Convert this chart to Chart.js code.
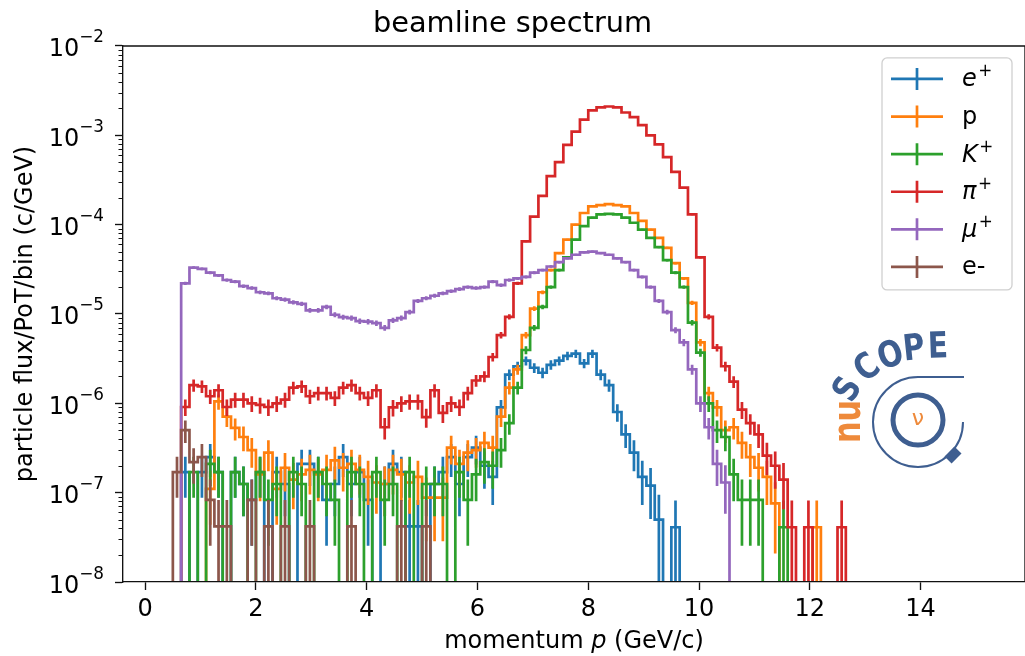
<!DOCTYPE html>
<html>
<head>
<meta charset="utf-8">
<title>beamline spectrum</title>
<script src="https://cdn.jsdelivr.net/npm/chart.js@4.4.0/dist/chart.umd.min.js"></script>
<style>
  html, body { margin: 0; padding: 0; background: #fff; overflow: hidden; }
  #wrap { position: relative; width: 1025px; height: 656px; overflow: hidden; }
  #spectrum { position: absolute; left: 0; top: 0; }
</style>
</head>
<body>
<div id="wrap"><canvas id="spectrum" width="1040" height="656"></canvas></div>
<script>
// momentum bins, 0.15 GeV wide, first edge at 0.5 GeV
const binStart = 0.5;
const binWidth = 0.15;

const seriesLabels = ['e⁺', 'p', 'K⁺', 'π⁺', 'μ⁺', 'e-'];
const seriesColors = ['#1f77b4', '#ff7f0e', '#2ca02c', '#d62728', '#9467bd', '#8c564b'];

// particle flux per bin (c/GeV), one value per bin from 0.5 GeV up, 10 bins per row
const ePlus = [
  0, 1.7e-7, 0, 1.7e-7, 2.5e-7, 1.7e-7, 0, 1.7e-7, 1.25e-7, 8.3e-8,
  1.7e-7, 0, 1.7e-7, 1.25e-7, 0, 2.1e-7, 2.1e-7, 1.7e-7, 8.3e-8, 1.25e-7,
  2.5e-7, 1.25e-7, 1.7e-7, 8.3e-8, 0, 1.25e-7, 2.1e-7, 1.7e-7, 4.2e-8, 4.2e-8,
  0, 1.25e-7, 1.7e-7, 2.5e-7, 1.25e-7, 2.5e-7, 3.2e-7, 2.0e-7, 1.5e-7, 9.0e-7,
  2.1e-6, 2.6e-6, 3.0e-6, 2.5e-6, 2.2e-6, 2.7e-6, 3.0e-6, 3.4e-6, 3.6e-6, 2.8e-6,
  3.6e-6, 2.1e-6, 1.6e-6, 8.0e-7, 4.5e-7, 2.8e-7, 1.5e-7, 1.2e-7, 5.0e-8, 0,
  4.1e-8
];
const proton = [
  0, 0, 0, 0, 1.1e-7, 1.05e-6, 7.1e-7, 5.3e-7, 4.2e-7, 3.0e-7,
  1.6e-7, 2.8e-7, 1.1e-7, 1.9e-7, 1.4e-7, 1.6e-7, 1.8e-7, 1.6e-7, 1.8e-7, 2.3e-7,
  1.9e-7, 2.1e-7, 1.8e-7, 1.5e-7, 1.3e-7, 1.25e-7, 1.8e-7, 1.6e-7, 1.3e-7, 1.5e-7,
  8.8e-8, 8.8e-8, 8.8e-8, 3.2e-7, 2.1e-7, 2.8e-7, 3.0e-7, 3.6e-7, 3.2e-7, 7.1e-7,
  1.5e-6, 2.4e-6, 5.8e-6, 1.15e-5, 1.75e-5, 3.1e-5, 4.8e-5, 6.8e-5, 1.0e-4, 1.35e-4,
  1.6e-4, 1.65e-4, 1.7e-4, 1.65e-4, 1.6e-4, 1.35e-4, 1.1e-4, 8.8e-5, 7.1e-5, 5.5e-5,
  3.7e-5, 2.5e-5, 1.33e-5, 4.8e-6, 1.3e-6, 9.0e-7, 5.0e-7, 5.4e-7, 3.6e-7, 2.5e-7,
  1.9e-7, 1.5e-7, 7.6e-8, 0, 0, 0, 0, 4.1e-8
];
const kaon = [
  0, 0, 1.7e-7, 0, 2.1e-7, 1.7e-7, 0, 1.7e-7, 1.25e-7, 0,
  1.7e-7, 8.3e-8, 1.25e-7, 0, 1.7e-7, 1.25e-7, 0, 1.7e-7, 1.25e-7, 8.3e-8,
  0, 1.7e-7, 1.25e-7, 0, 1.7e-7, 8.3e-8, 1.25e-7, 0, 1.7e-7, 0,
  1.25e-7, 1.25e-7, 1.25e-7, 0, 1.7e-7, 8.3e-8, 1.6e-7, 2.2e-7, 2.0e-7, 3.0e-7,
  6.0e-7, 1.5e-6, 3.95e-6, 7.0e-6, 1.2e-5, 2.0e-5, 3.1e-5, 4.3e-5, 6.8e-5, 9.6e-5,
  1.2e-4, 1.3e-4, 1.32e-4, 1.3e-4, 1.2e-4, 1.05e-4, 8.8e-5, 7.1e-5, 5.6e-5, 4.0e-5,
  2.9e-5, 2.0e-5, 8.0e-6, 3.7e-6, 1.0e-6, 5.0e-7, 4.2e-7, 1.6e-7, 8.3e-8, 8.3e-8,
  8.3e-8, 0, 0, 4.1e-8
];
const pion = [
  0, 9.1e-7, 1.6e-6, 1.55e-6, 1.2e-6, 1.4e-6, 9.1e-7, 1.1e-6, 1.1e-6, 1.0e-6,
  9.6e-7, 9.1e-7, 1.0e-6, 1.1e-6, 1.5e-6, 1.55e-6, 1.2e-6, 1.3e-6, 1.3e-6, 1.15e-6,
  1.5e-6, 1.6e-6, 1.3e-6, 1.15e-6, 1.4e-6, 5.4e-7, 9.0e-7, 1.0e-6, 1.05e-6, 1.05e-6,
  7.0e-7, 1.4e-6, 7.8e-7, 1.0e-6, 9.1e-7, 1.3e-6, 1.8e-6, 2.0e-6, 3.3e-6, 5.8e-6,
  9.3e-6, 2.2e-5, 6.5e-5, 1.23e-4, 2.1e-4, 3.5e-4, 5.0e-4, 7.8e-4, 1.1e-3, 1.5e-3,
  1.9e-3, 2.05e-3, 2.1e-3, 2.05e-3, 1.8e-3, 1.6e-3, 1.3e-3, 1.0e-3, 7.9e-4, 5.7e-4,
  3.9e-4, 2.6e-4, 1.3e-4, 4.3e-5, 9.3e-6, 4.2e-6, 2.6e-6, 1.75e-6, 8.5e-7, 6.0e-7,
  4.5e-7, 2.6e-7, 2.0e-7, 1.4e-7, 4.1e-8, 0, 4.1e-8, 0, 0, 0,
  4.1e-8
];
const muon = [
  0, 2.2e-5, 3.3e-5, 3.2e-5, 2.9e-5, 2.7e-5, 2.4e-5, 2.3e-5, 2.05e-5, 1.95e-5,
  1.75e-5, 1.7e-5, 1.5e-5, 1.45e-5, 1.35e-5, 1.3e-5, 1.1e-5, 1.1e-5, 1.2e-5, 9.8e-6,
  9.2e-6, 9.0e-6, 8.3e-6, 8.2e-6, 7.9e-6, 7.0e-6, 8.5e-6, 9.0e-6, 1.05e-5, 1.4e-5,
  1.5e-5, 1.6e-5, 1.7e-5, 1.8e-5, 1.9e-5, 2.0e-5, 1.95e-5, 2.0e-5, 2.3e-5, 2.1e-5,
  2.4e-5, 2.5e-5, 2.6e-5, 2.9e-5, 3.1e-5, 3.4e-5, 3.8e-5, 4.2e-5, 4.6e-5, 4.9e-5,
  5.0e-5, 4.8e-5, 4.6e-5, 4.2e-5, 3.8e-5, 3.1e-5, 2.6e-5, 2.0e-5, 1.4e-5, 1.05e-5,
  6.6e-6, 4.8e-6, 2.4e-6, 1.0e-6, 5.4e-7, 2.1e-7, 1.3e-7
];
const eMinus = [
  1.7e-7, 5.0e-7, 2.2e-7, 2.5e-7, 8.3e-8, 4.2e-8, 4.2e-8, 0, 0, 8.3e-8,
  0, 4.2e-8, 0, 4.2e-8, 0, 0, 4.2e-8, 0, 0, 0,
  0, 4.2e-8, 0, 0, 0, 0, 0, 4.2e-8, 0, 0,
  4.2e-8
];

const xTicks = [0, 2, 4, 6, 8, 10, 12, 14];
const yTicks = [1e-8, 1e-7, 1e-6, 1e-5, 1e-4, 1e-3, 1e-2];

const seriesValues = [ePlus, proton, kaon, pion, muon, eMinus];
const unitWeight = 4e-8;   // flux of a single event, sets the statistical error bars
const emptyLevel = 1e-12;  // empty bins fall far below the axis, as in the original

const binCenter = i => binStart + (i + 0.5) * binWidth;

const datasets = seriesValues.map((vals, s) => {
  const pts = [{ x: binCenter(-1), y: emptyLevel }];
  vals.forEach((v, i) => pts.push({ x: binCenter(i), y: v > 0 ? v : emptyLevel }));
  pts.push({ x: binCenter(vals.length), y: emptyLevel });
  return {
    label: seriesLabels[s],
    data: pts,
    values: vals,
    borderColor: seriesColors[s],
    backgroundColor: seriesColors[s],
    borderWidth: 2.7,
    pointRadius: 0,
    stepped: 'middle',
    fill: false,
    order: seriesValues.length - s
  };
});

const FONT = '"DejaVu Sans"';
const INK = '#111';

// vertical error bars at each bin centre, drawn right after their own histogram
const errorBars = {
  id: 'errorBars',
  afterDatasetDraw(chart, args) {
    const ds = chart.data.datasets[args.index];
    const { ctx, chartArea: a, scales: { x, y } } = chart;
    ctx.save();
    ctx.beginPath();
    ctx.rect(a.left, a.top, a.right - a.left, a.bottom - a.top);
    ctx.clip();
    ctx.strokeStyle = ds.borderColor;
    ctx.lineWidth = ds.borderWidth;
    ctx.beginPath();
    ds.values.forEach((v, i) => {
      if (v <= 0) return;
      const err = Math.sqrt(v * unitWeight);
      const px = x.getPixelForValue(binCenter(i));
      const lo = v - err > 0 ? y.getPixelForValue(v - err) : a.bottom + 5;
      ctx.moveTo(px, y.getPixelForValue(v + err));
      ctx.lineTo(px, lo);
    });
    ctx.stroke();
    ctx.restore();
  }
};

// spines, minor ticks, y tick labels and x title in matplotlib style
const axesDecor = {
  id: 'axesDecor',
  afterDraw(chart) {
    const { ctx, chartArea: a, scales: { x, y } } = chart;
    ctx.save();
    ctx.strokeStyle = INK;
    ctx.lineWidth = 1.35;
    ctx.beginPath();
    ctx.moveTo(a.left - 0.7, a.top);
    ctx.lineTo(a.right, a.top);
    ctx.lineTo(a.right, a.bottom);
    ctx.stroke();

    ctx.lineWidth = 1;
    ctx.beginPath();
    for (let d = -8; d < -2; d++) {
      for (let m = 2; m < 10; m++) {
        const py = Math.round(y.getPixelForValue(m * Math.pow(10, d))) + 0.5;
        ctx.moveTo(a.left, py);
        ctx.lineTo(a.left - 4.5, py);
      }
    }
    ctx.stroke();

    ctx.fillStyle = '#000';
    ctx.textAlign = 'left';
    ctx.textBaseline = 'alphabetic';
    yTicks.forEach(v => {
      const py = y.getPixelForValue(v);
      const exp = '\u2212' + Math.abs(Math.round(Math.log10(v)));
      ctx.font = '16.8px ' + FONT;
      const ew = ctx.measureText(exp).width;
      ctx.font = '24px ' + FONT;
      const bw = ctx.measureText('10').width;
      const base = py + 10.5;
      ctx.fillText('10', 104 - ew - bw, base);
      ctx.font = '16.8px ' + FONT;
      ctx.fillText(exp, 104 - ew, base - 14);
    });

    const parts = [['momentum ', ''], ['p', 'italic '], [' (GeV/c)', '']];
    let total = 0;
    parts.forEach(p => { ctx.font = p[1] + '24px ' + FONT; total += ctx.measureText(p[0]).width; });
    let cx = (a.left + a.right) / 2 - total / 2;
    parts.forEach(p => {
      ctx.font = p[1] + '24px ' + FONT;
      ctx.fillText(p[0], cx, 648);
      cx += ctx.measureText(p[0]).width;
    });
    ctx.restore();
  }
};

function drawLegendLabel(ctx, label, x, base) {
  const sup = label.endsWith('⁺');
  const body = sup ? label.slice(0, -1) : label;
  ctx.font = (sup ? 'italic ' : '') + '24px ' + FONT;
  ctx.fillText(body, x, base);
  if (sup) {
    const w = ctx.measureText(body).width;
    ctx.font = '16.8px ' + FONT;
    ctx.fillText('+', x + w + 1.5, base - 10);
  }
}

const legendBox = {
  id: 'legendBox',
  afterDraw(chart) {
    const { ctx, chartArea: a } = chart;
    const w = 130, h = 232;
    const x0 = a.right - 13 - w, y0 = a.top + 12;
    ctx.save();
    ctx.beginPath();
    ctx.roundRect(x0, y0, w, h, 5);
    ctx.fillStyle = 'rgba(255,255,255,0.8)';
    ctx.fill();
    ctx.strokeStyle = '#d0d0d0';
    ctx.lineWidth = 1.3;
    ctx.stroke();
    ctx.textAlign = 'left';
    ctx.textBaseline = 'alphabetic';
    chart.data.datasets.forEach((ds, i) => {
      const cy = y0 + 21 + i * 37.6;
      ctx.strokeStyle = ds.borderColor;
      ctx.lineWidth = ds.borderWidth;
      ctx.beginPath();
      ctx.moveTo(x0 + 9, cy);
      ctx.lineTo(x0 + 61, cy);
      ctx.moveTo(x0 + 35, cy - 11);
      ctx.lineTo(x0 + 35, cy + 11);
      ctx.stroke();
      ctx.fillStyle = '#000';
      drawLegendLabel(ctx, ds.label, x0 + 80, cy + 7.5);
    });
    ctx.restore();
  }
};

// nuSCOPE logo in the right half of the plot
const logo = {
  id: 'logo',
  afterDraw(chart) {
    const ctx = chart.ctx;
    const blue = '#3e5e90', orange = '#ee8a3b';
    ctx.save();
    ctx.strokeStyle = blue;
    ctx.lineWidth = 2;
    ctx.beginPath();
    ctx.arc(918, 422, 45, 0, 1.5 * Math.PI);
    ctx.moveTo(918, 377);
    ctx.lineTo(964, 377);
    ctx.stroke();

    ctx.lineWidth = 5;
    ctx.beginPath();
    ctx.arc(918, 420, 25, 0, 2 * Math.PI);
    ctx.stroke();

    ctx.save();
    ctx.translate(953, 455);
    ctx.rotate(Math.PI / 4);
    ctx.fillStyle = blue;
    ctx.fillRect(-5, -7, 10, 14);
    ctx.restore();

    ctx.fillStyle = orange;
    ctx.textAlign = 'center';
    ctx.textBaseline = 'middle';
    ctx.font = '22px ' + FONT;
    ctx.fillText('ν', 918, 419);

    ctx.save();
    ctx.translate(860, 443);
    ctx.rotate(-Math.PI / 2);
    ctx.scale(0.82, 1);
    ctx.textAlign = 'left';
    ctx.textBaseline = 'alphabetic';
    ctx.font = 'bold 37px ' + FONT;
    ctx.fillText('nu', 0, 0);
    ctx.restore();

    ctx.fillStyle = blue;
    ctx.font = 'bold 36px ' + FONT;
    [['S', 849, 390, -60], ['C', 868, 369, -38], ['O', 891, 357, -18], ['P', 914, 350, -6], ['E', 938, 348, -2]]
      .forEach(([ch, lx, ly, rot]) => {
        ctx.save();
        ctx.translate(lx, ly);
        ctx.rotate(rot * Math.PI / 180);
        ctx.scale(0.82, 1);
        ctx.fillText(ch, 0, 0);
        ctx.restore();
      });
    ctx.restore();
  }
};

Chart.defaults.font.family = FONT;
Chart.defaults.color = '#000';

const tickGrid = { display: true, drawOnChartArea: false, drawTicks: true, tickLength: 8, tickWidth: 1.35, tickColor: INK, z: 1 };
const spine = { display: true, color: INK, width: 1.35, z: 1 };

new Chart(document.getElementById('spectrum'), {
  type: 'line',
  data: { datasets },
  options: {
    responsive: false,
    animation: false,
    events: [],
    layout: { padding: { left: 0, right: 15, top: 0, bottom: 0 } },
    plugins: {
      legend: { display: false },
      tooltip: { enabled: false },
      title: {
        display: true,
        text: 'beamline spectrum',
        color: '#000',
        font: { size: 28.8, weight: 'normal' },
        padding: { top: 7.4, bottom: 4 }
      }
    },
    scales: {
      x: {
        type: 'linear',
        min: -0.4,
        max: 15.885,
        afterBuildTicks: s => { s.ticks = xTicks.map(v => ({ value: v })); },
        afterFit: s => { s.height = 74; },
        ticks: { color: '#000', font: { size: 24 }, padding: 5, maxRotation: 0, autoSkip: false },
        grid: tickGrid,
        border: spine
      },
      y: {
        type: 'logarithmic',
        min: 1e-8,
        max: 1e-2,
        afterBuildTicks: s => { s.ticks = yTicks.map(v => ({ value: v, major: true })); },
        afterFit: s => { s.width = 123; },
        ticks: { display: false },
        grid: tickGrid,
        border: spine,
        title: {
          display: true,
          text: 'particle flux/PoT/bin (c/GeV)',
          color: '#000',
          font: { size: 24 },
          padding: { top: 11.5, bottom: 0 }
        }
      }
    }
  },
  plugins: [errorBars, axesDecor, legendBox, logo]
});
</script>
</body>
</html>
